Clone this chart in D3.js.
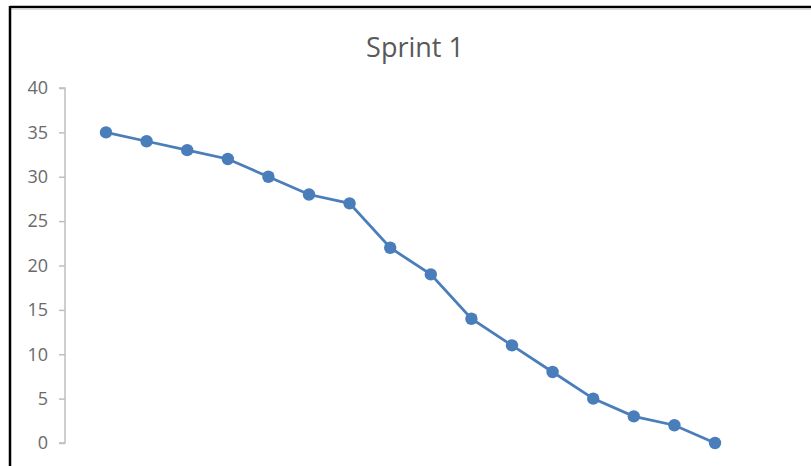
<!DOCTYPE html>
<html>
<head>
<meta charset="utf-8">
<script src="https://cdn.jsdelivr.net/npm/d3@7"></script>
<style>
  body { margin: 0; background: #fff; }
  svg { display: block; }
</style>
</head>
<body>
<svg id="chart" width="811" height="466"></svg>
<script>
const title = 'Sprint 1';
const days = d3.range(1, 17);
const remaining = [35, 34, 33, 32, 30, 28, 27, 22, 19, 14, 11, 8, 5, 3, 2, 0];
const yTicks = [0, 5, 10, 15, 20, 25, 30, 35, 40];

const svg = d3.select('#chart');
const W = 811;
const H = 466;
const m = { top: 88, right: 96, bottom: 23, left: 65 };

// frame: heavy black top/left, light shadow under top
svg.append('line')
  .attr('x1', 10).attr('x2', W).attr('y1', 7).attr('y2', 7)
  .attr('stroke', '#000').attr('stroke-width', 2.5);
svg.append('line')
  .attr('x1', 10).attr('x2', W).attr('y1', 9).attr('y2', 9)
  .attr('stroke', '#d0d0d0').attr('stroke-width', 1.5);
svg.append('line')
  .attr('x1', 10).attr('x2', 10).attr('y1', 6).attr('y2', H)
  .attr('stroke', '#000').attr('stroke-width', 2.5);

svg.append('text')
  .attr('x', 415)
  .attr('y', 57)
  .attr('text-anchor', 'middle')
  .attr('font-family', 'Open Sans, sans-serif')
  .attr('font-size', 27)
  .attr('fill', '#595959')
  .text(title);

const x = d3.scalePoint()
  .domain(days)
  .range([106, 715]);

const y = d3.scaleLinear()
  .domain([0, 40])
  .range([443, m.top]);

const yAxis = svg.append('g')
  .attr('transform', `translate(${m.left},0)`)
  .attr('font-family', 'Open Sans, sans-serif')
  .attr('font-size', 18)
  .call(d3.axisLeft(y).tickValues(yTicks).tickSize(6).tickPadding(11));

yAxis.attr('font-family', 'Open Sans, sans-serif').attr('font-size', 18);
yAxis.select('.domain')
  .attr('stroke', '#bfbfbf')
  .attr('stroke-width', 1.5)
  .attr('d', `M-6,${y(40)}H0V${y(0)}H-6`);
yAxis.selectAll('.tick line').attr('stroke', '#bfbfbf').attr('stroke-width', 1.5);
yAxis.selectAll('.tick text')
  .attr('fill', '#6a6a6a')
  .style('font-size', '18px');

const line = d3.line()
  .x((d, i) => x(days[i]))
  .y(d => y(d));

svg.append('path')
  .datum(remaining)
  .attr('fill', 'none')
  .attr('stroke', '#4a7ebb')
  .attr('stroke-width', 2.8)
  .attr('d', line);

svg.selectAll('circle.pt')
  .data(remaining)
  .enter()
  .append('circle')
  .attr('class', 'pt')
  .attr('cx', (d, i) => x(days[i]))
  .attr('cy', d => y(d))
  .attr('r', 6.2)
  .attr('fill', '#4a7ebb');
</script>
</body>
</html>
